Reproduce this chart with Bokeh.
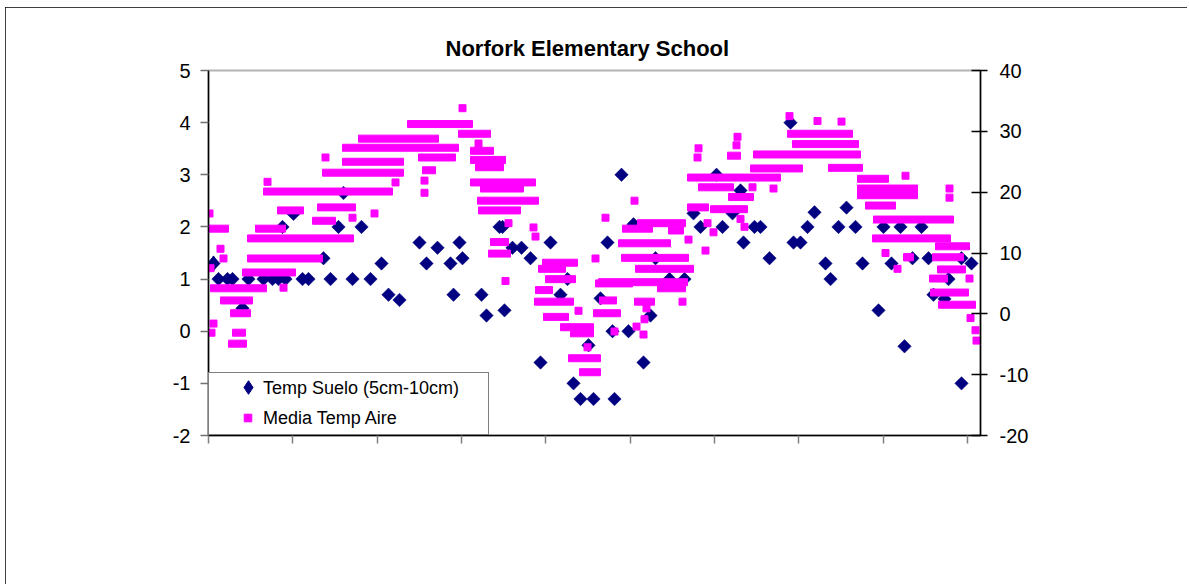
from bokeh.plotting import figure
from bokeh.models import Range1d, LinearAxis, FixedTicker, Legend, LegendItem
from bokeh.embed import file_html
from bokeh.resources import INLINE
import numpy as np

TITLE = "Norfork Elementary School"
SERIES_SUELO = "Temp Suelo (5cm-10cm)"
SERIES_AIRE = "Media Temp Aire"
LEFT_TICKS = [-2, -1, 0, 1, 2, 3, 4, 5]
LEFT_LABELS = ["-2", "-1", "0", "1", "2", "3", "4", "5"]
RIGHT_TICKS = [-20, -10, 0, 10, 20, 30, 40]
RIGHT_LABELS = ["-20", "-10", "0", "10", "20", "30", "40"]
X_TICKS = [0, 84.3, 168.7, 253, 337.3, 421.7, 506, 590.3, 674.7, 759]

# Temp Suelo (left axis): day index, value
suelo_dia = [5, 10, 19, 24, 34, 40, 55, 64, 70, 77, 74, 85, 94, 100, 115, 122, 130, 135, 144, 153,
             162, 173, 180, 191, 211, 218, 229, 242, 245, 251, 254, 273, 278, 291, 294, 296, 304, 313,
             322, 332, 342, 352, 359, 365, 372, 380, 385, 392, 399, 404, 406, 413, 420, 425, 435, 442,
             447, 461, 476, 485, 492, 508, 514, 524, 532, 535, 546, 552, 561, 582, 585, 592, 599, 606,
             617, 622, 630, 638, 647, 654, 670, 675, 683, 692, 696, 704, 713, 720, 725, 736, 740, 753,
             753, 763]
suelo_temp = [1.3, 1.0, 1.0, 1.0, 0.44, 1.0, 1.0, 1.0, 1.0, 1.0, 2.0, 2.25, 1.0, 1.0, 1.4, 1.0, 2.0, 2.65, 1.0, 2.0,
              1.0, 1.3, 0.7, 0.6, 1.7, 1.3, 1.6, 1.3, 0.7, 1.7, 1.4, 0.7, 0.3, 2.0, 2.0, 0.4, 1.6, 1.6,
              1.4, -0.6, 1.7, 0.7, 1.0, -1.0, -1.3, -0.27, -1.3, 0.63, 1.7, 0.0, -1.3, 3.0, 0.0, 2.05, -0.6, 0.3,
              1.4, 1.0, 1.0, 2.26, 2.0, 3.0, 2.0, 2.26, 2.7, 1.7, 2.0, 2.0, 1.4, 4.0, 1.7, 1.7, 2.0, 2.28,
              1.3, 1.0, 2.0, 2.37, 2.0, 1.3, 0.4, 2.0, 1.3, 2.0, -0.29, 1.4, 2.0, 1.4, 0.7, 0.62, 1.0, 1.4,
              -1.0, 1.3]

# Media Temp Aire (right axis): runs of overlapping daily markers (first day, last day, value)
aire_inicio = [0, 2, 12, 22, 24, 20, 34, 39, 39, 47, 69, 109, 104, 55, 114, 134, 134, 150, 199, 210, 214,
               250, 262, 262, 267, 262, 272, 269, 270, 282, 280,
               334, 330, 337, 327, 326, 335, 352, 362, 360, 371,
               413, 427, 387, 390, 449, 391, 385, 426, 414, 429, 460, 410,
               479, 490, 520, 479, 502, 519, 545, 542, 579, 584, 620, 649, 649, 649, 657, 665, 664,
               727, 724, 729, 721, 722, 730, 695]
aire_fin = [20, 58, 44, 42, 37, 38, 87, 114, 145, 77, 95, 147, 127, 184, 195, 195, 250, 230, 264, 247, 227,
            282, 285, 297, 295, 327, 315, 330, 312, 300, 302,
            369, 357, 367, 344, 365, 360, 385, 385, 392, 392,
            480, 485, 424, 479, 477, 408, 412, 446, 444, 477, 475, 462,
            572, 525, 545, 500, 539, 532, 652, 594, 644, 650, 654, 680, 709, 709, 687, 745, 742,
            761, 755, 757, 739, 760, 767, 705]
aire_temp = [14.0, 4.2, 2.2, 0.1, -3.1, -4.9, 6.8, 9.1, 12.4, 14.0, 17.0, 17.5, 15.3, 20.1, 23.2, 25.0, 27.3, 28.8, 31.2, 25.7, 23.6,
             29.6, 26.8, 25.3, 24.1, 21.6, 20.6, 18.6, 17.0, 11.8, 9.9,
             8.4, 7.4, 5.7, 3.9, 2.0, -0.5, -2.2, -3.2, -7.3, -9.6,
             9.2, 7.4, 5.0, 5.2, 4.2, 2.2, 0.1, 2.0, 14.0, 14.9, 13.7, 11.6,
             22.4, 20.8, 19.2, 17.5, 17.2, 26.0, 26.2, 23.9, 29.6, 27.9, 24.0, 22.2, 20.6, 19.5, 17.8, 15.5, 12.4,
             11.1, 9.3, 7.3, 5.8, 3.5, 1.5, 9.3]

# Media Temp Aire: isolated daily values
aire_dia = [1, 12, 15, 2, 5, 3, 75, 59, 117, 144, 166, 187, 216, 216, 254, 270, 300, 325, 327, 297,
            370, 379, 387, 397, 426, 474, 438, 436, 428, 435, 406, 480, 490, 489, 529, 528, 565, 544,
            497, 499, 505, 532, 536, 581, 609, 633, 697, 677, 689, 699, 761, 762, 767, 768, 741, 741]
aire_valor = [16.5, 10.7, 9.1, 7.5, -1.6, -3.1, 4.3, 21.7, 25.7, 15.8, 16.5, 21.6, 21.9, 19.9, 33.8, 28.0, 14.9, 14.2, 12.7, 5.4,
              0.5, -5.5, 9.1, 15.8, 18.6, 2.0, 0.9, -0.9, -2.1, -3.4, -2.9, 12.2, 27.2, 25.7, 29.1, 27.7, 20.6, 20.8,
              10.4, 14.9, 13.4, 15.6, 14.3, 32.5, 31.7, 31.6, 22.7, 10.0, 7.4, 9.3, 5.8, -0.7, -2.7, -4.4, 20.6, 19.1]

NAVY = "#000080"
MAGENTA = "#FF00FF"
FONT = "Liberation Sans"

p = figure(width=1182, height=577, output_backend="svg", toolbar_location=None,
           x_range=Range1d(0, 772), y_range=Range1d(-2, 5),
           min_border_left=203, min_border_right=207, min_border_top=63, min_border_bottom=149)
p.extra_y_ranges = {"aire": Range1d(-20, 40)}
p.styles = {"margin-left": "5px", "margin-top": "7px",
            "outline": "1px solid black", "outline-offset": "-1px"}

p.title.text = TITLE
p.title.align = "left"
p.title.offset = 237
p.title.text_font = FONT
p.title.text_font_size = "22px"
p.title.text_font_style = "bold"
p.title.text_color = "black"
p.title.standoff = 20

p.grid.visible = False
p.outline_line_color = "#b3b3b3"
p.outline_line_width = 2
p.background_fill_color = "white"
p.border_fill_color = "white"

# left axis
ya = p.yaxis[0]
ya.ticker = FixedTicker(ticks=LEFT_TICKS)
ya.major_label_overrides = dict(zip(LEFT_TICKS, LEFT_LABELS))
ya.axis_line_color = "black"
ya.axis_line_width = 1.5
ya.major_tick_line_color = "#707070"
ya.major_tick_line_width = 1.5
ya.major_tick_out = 8
ya.major_tick_in = 0
ya.minor_tick_line_color = None
ya.major_label_standoff = 10
ya.major_label_text_font = FONT
ya.major_label_text_font_size = "20px"
ya.major_label_text_color = "black"

# bottom axis
xa = p.xaxis[0]
xa.ticker = FixedTicker(ticks=X_TICKS)
xa.major_label_overrides = {t: "" for t in X_TICKS}
xa.axis_line_color = "black"
xa.axis_line_width = 1.5
xa.major_tick_line_color = "#808080"
xa.major_tick_line_width = 1.5
xa.major_tick_out = 8
xa.major_tick_in = 0
xa.minor_tick_line_color = None

# right axis
ra = LinearAxis(y_range_name="aire", ticker=FixedTicker(ticks=RIGHT_TICKS))
ra.major_label_overrides = dict(zip(RIGHT_TICKS, RIGHT_LABELS))
ra.axis_line_color = "black"
ra.axis_line_width = 1.5
ra.major_tick_line_color = "black"
ra.major_tick_line_width = 1.5
ra.major_tick_out = 7
ra.major_tick_in = 9
ra.minor_tick_line_color = None
ra.major_label_standoff = 12
ra.major_label_text_font = FONT
ra.major_label_text_font_size = "20px"
ra.major_label_text_color = "black"
p.add_layout(ra, "right")

# legend helpers: invisible keys for the boxed legend, and visible keys drawn over it
r_suelo_blank = p.scatter(suelo_dia[:1], suelo_temp[:1], marker="diamond", size=1,
                          fill_alpha=0, line_alpha=0)
r_aire_blank = p.scatter(aire_dia[:1], aire_valor[:1], marker="square", size=1,
                         fill_alpha=0, line_alpha=0, y_range_name="aire")
r_suelo_leg = p.scatter(suelo_dia[:1], suelo_temp[:1], marker="diamond", size=15,
                        fill_color=NAVY, line_color=NAVY)
r_suelo = p.scatter(suelo_dia, suelo_temp, marker="square", angle=np.pi / 4, size=9.5,
                    fill_color=NAVY, line_color=NAVY, line_width=0.5)

x0 = np.array(aire_inicio, dtype=float)
x1 = np.array(aire_fin, dtype=float)
p.rect(x=(x0 + x1) / 2, y=aire_temp, width=(x1 - x0), height=7, height_units="screen",
       fill_color=MAGENTA, line_color=MAGENTA, line_width=1, y_range_name="aire")
r_aire = p.scatter(aire_dia, aire_valor, marker="square", size=7, fill_color=MAGENTA,
                   line_color=MAGENTA, y_range_name="aire")

legend = Legend(items=[LegendItem(label=SERIES_SUELO, renderers=[r_suelo_blank]),
                       LegendItem(label=SERIES_AIRE, renderers=[r_aire_blank])],
                location="bottom_left", margin=0, padding=5, spacing=9,
                glyph_width=46, glyph_height=19, label_height=19, label_width=220, label_standoff=3,
                label_text_font=FONT, label_text_font_size="18px", label_text_color="black",
                border_line_color="black", border_line_width=1, background_fill_color="white",
                background_fill_alpha=1.0)
p.add_layout(legend, "center")

key_suelo = Legend(items=[LegendItem(label=" ", renderers=[r_suelo_leg])],
                   location=(23, 31), margin=0, padding=0, spacing=0,
                   glyph_width=34, glyph_height=34, label_height=10, label_width=1, label_standoff=0,
                   label_text_font_size="1px", border_line_color=None, background_fill_alpha=0)
p.add_layout(key_suelo, "center")

key_aire = Legend(items=[LegendItem(label=" ", renderers=[r_aire])],
                  location=(30, 8), margin=0, padding=0, spacing=0,
                  glyph_width=19, glyph_height=19, label_height=10, label_width=1, label_standoff=0,
                  label_text_font_size="1px", border_line_color=None, background_fill_alpha=0)
p.add_layout(key_aire, "center")

open("out.html", "w").write(file_html(p, INLINE))
